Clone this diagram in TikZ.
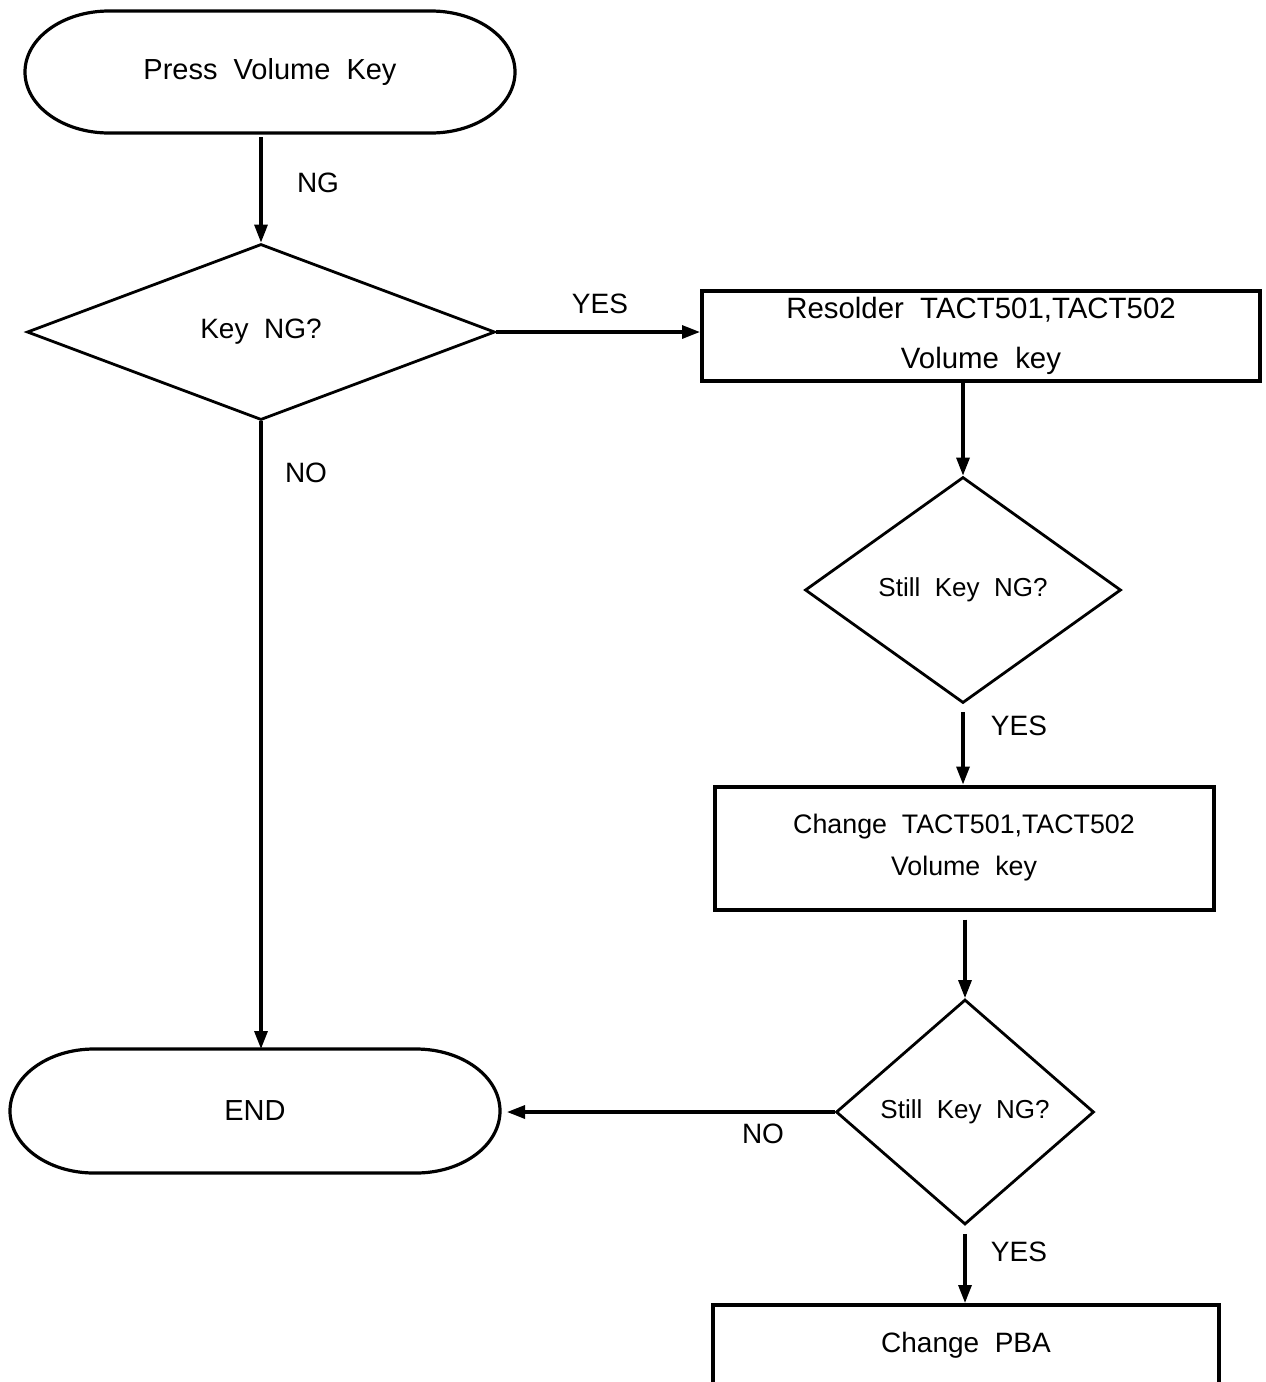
\documentclass[tikz,border=0pt]{standalone}
\usepackage{fontspec}
\setmainfont{Liberation Sans}
\usetikzlibrary{positioning}
\usetikzlibrary{arrows.meta}
\usetikzlibrary{shapes.geometric}

\begin{document}
\begin{tikzpicture}[
x=0.5pt, y=-0.5pt,
termnode/.style={rectangle, outer sep=0pt, minimum width=245pt, minimum height=61pt, font=\fontsize{14.5}{16}\selectfont},
termline/.style={line width=1.6pt},
decnode/.style={diamond, draw, line width=1.4pt, inner sep=0pt, font=\fontsize{14}{16}\selectfont},
boxnode/.style={rectangle, draw, line width=2pt, align=center, font=\fontsize{14.7}{25}\selectfont},
lblnode/.style={font=\fontsize{14}{16}\selectfont},
arr/.style={-{Triangle[length=9pt,width=6.5pt]}, line width=1.6pt},
]
\useasboundingbox (0,0) rectangle (1265,1382);

%Nodes
\node[termnode]                      (start)  at (270,72)   {Press~~Volume~~Key};
\node[decnode, aspect=2.66, minimum width=234pt, minimum height=88pt]
                                     (keyng)  at (261,332)  {Key~~NG?};
\node[boxnode, minimum width=279pt, minimum height=45pt]
                                     (resold) at (981,336)  {Resolder~~TACT501,TACT502\\Volume~~key};
\node[decnode, aspect=1.4, minimum width=158pt, minimum height=113pt, font=\fontsize{13}{15}\selectfont]
                                     (still1) at (963,590)  {Still~~Key~~NG?};
\node[boxnode, minimum width=249.5pt, minimum height=61.5pt, font=\fontsize{13.4}{21}\selectfont]
                                     (chtact) at (964,848)  {Change~~TACT501,TACT502\\Volume~~key};
\node[decnode, aspect=1.15, minimum width=129pt, minimum height=112.5pt, font=\fontsize{13}{15}\selectfont]
                                     (still2) at (965,1112) {Still~~Key~~NG?};
\node[termnode, minimum height=62pt] (finish) at (255,1111) {END};
\node[boxnode, minimum width=253pt, minimum height=40pt, font=\fontsize{14}{16}\selectfont]
                                     (chpba)  at (966,1345) {Change~~PBA};

%Terminal outlines
\foreach \t/\r in {start/30.5pt, finish/31pt}{
  \draw[termline] ([xshift=42pt]\t.north west) -- ([xshift=-42pt]\t.north east)
    arc[start angle=90, end angle=-90, x radius=42pt, y radius=\r]
    -- ([xshift=42pt]\t.south west)
    arc[start angle=270, end angle=90, x radius=42pt, y radius=\r] -- cycle;
}

%Labels
\node[lblnode] (ng)   at (318,183)  {NG};
\node[lblnode] (yes1) at (600,304)  {YES};
\node[lblnode] (no1)  at (306,473)  {NO};
\node[lblnode] (yes2) at (1019,726) {YES};
\node[lblnode] (no2)  at (763,1134) {NO};
\node[lblnode] (yes3) at (1019,1252) {YES};

%Lines
\draw[arr, shorten <=2pt] (keyng.north |- start.south) -- (keyng.north);
\draw[arr] (keyng.east) -- (keyng.east -| resold.west);
\draw[arr] (keyng.south) -- (keyng.south |- finish.north);
\draw[arr] (still1.north |- resold.south) -- (still1.north);
\draw[arr, shorten <=4pt] (still1.south) -- (chtact.north -| still1.south);
\draw[arr, shorten <=4pt] (still2.north |- chtact.south) -- (still2.north);
\draw[arr, shorten >=3.5pt] (still2.west) -- (still2.west -| finish.east);
\draw[arr, shorten <=4pt] (still2.south) -- (chpba.north -| still2.south);
\end{tikzpicture}
\end{document}
